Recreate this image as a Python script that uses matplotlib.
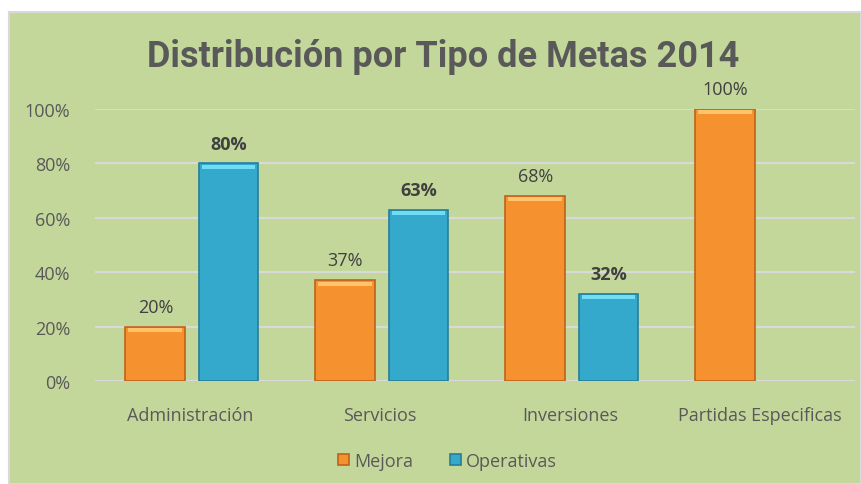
import matplotlib.pyplot as plt
import numpy as np

categorias = ["Administración", "Servicios", "Inversiones", "Partidas Especificas"]
mejora = [20, 37, 68, 100]
operativas = [80, 63, 32, None]

fig = plt.figure(figsize=(8.61, 4.85), dpi=100)
fig.patch.set_facecolor("white")

# green chart area
bg = fig.add_axes([9 / 861, 0, 1 - 9 / 861, 1 - 13 / 485], zorder=0)
bg.set_facecolor("#C4D79B")
bg.set_xticks([])
bg.set_yticks([])
for s in bg.spines.values():
    s.set_color("#D9D9D9")
    s.set_linewidth(1.5)

ax = fig.add_axes([95 / 861, (485 - 382) / 485, 760 / 861, (382 - 110) / 485], zorder=1)
ax.set_facecolor("none")

x = np.arange(len(categorias))
w = 0.315
off = 0.035 + w / 2

xm = x - off + 0.01
bm = ax.bar(xm, mejora, w, color="#F5922F", edgecolor="#C0621A", linewidth=1.2, zorder=3)
xo = [xi + off + 0.01 for xi, v in zip(x, operativas) if v is not None]
vo = [v for v in operativas if v is not None]
bo = ax.bar(xo, vo, w, color="#35A9CB", edgecolor="#237E99", linewidth=1.2, zorder=3)

# top highlight strip
ax.bar(xm, [1.5] * len(mejora), w * 0.9, bottom=[v - 2 for v in mejora], color="#FFC36B", zorder=4)
ax.bar(xo, [1.5] * len(vo), w * 0.9, bottom=[v - 2 for v in vo], color="#6FDDF5", zorder=4)

fs = 13
for xi, v in zip(xm, mejora):
    ax.text(xi, v + 4, f"{v}%", ha="center", va="bottom", fontsize=fs, color="#404040",
            family="Open Sans")
for xi, v in zip(xo, vo):
    ax.text(xi, v + 4, f"{v}%", ha="center", va="bottom", fontsize=fs, color="#404040",
            family="Open Sans", fontweight="bold")

ax.set_xlim(-0.5, 3.5)
ax.set_ylim(0, 100)
ax.set_yticks(range(0, 101, 20))
ax.set_yticklabels([f"{t}%" for t in range(0, 101, 20)], fontsize=fs, color="#595959",
                   family="Open Sans")
ax.set_xticks(x)
ax.set_xticklabels(categorias, fontsize=fs, color="#595959", family="Open Sans")
ax.tick_params(length=0)
ax.tick_params(axis="x", pad=18)
ax.tick_params(axis="y", pad=18)
ax.grid(axis="y", color="#D9D9D9", linewidth=1.5, zorder=0)
ax.set_axisbelow(True)
for s in ax.spines.values():
    s.set_visible(False)

fig.text(0.515, 1 - 57 / 485, "Distribución por Tipo de Metas 2014", ha="center", va="center",
         fontsize=26, fontweight="bold", color="#595959", family="Roboto")

leg = fig.legend([bm, bo], ["Mejora", "Operativas"], loc="center", bbox_to_anchor=(0.52, 1 - 462 / 485),
                 ncol=2, frameon=False, prop={"family": "Open Sans", "size": fs},
                 handlelength=0.6, handleheight=0.6, columnspacing=2.0, handletextpad=0.3)
for t in leg.get_texts():
    t.set_color("#595959")

fig.savefig("out.png", dpi=100)
